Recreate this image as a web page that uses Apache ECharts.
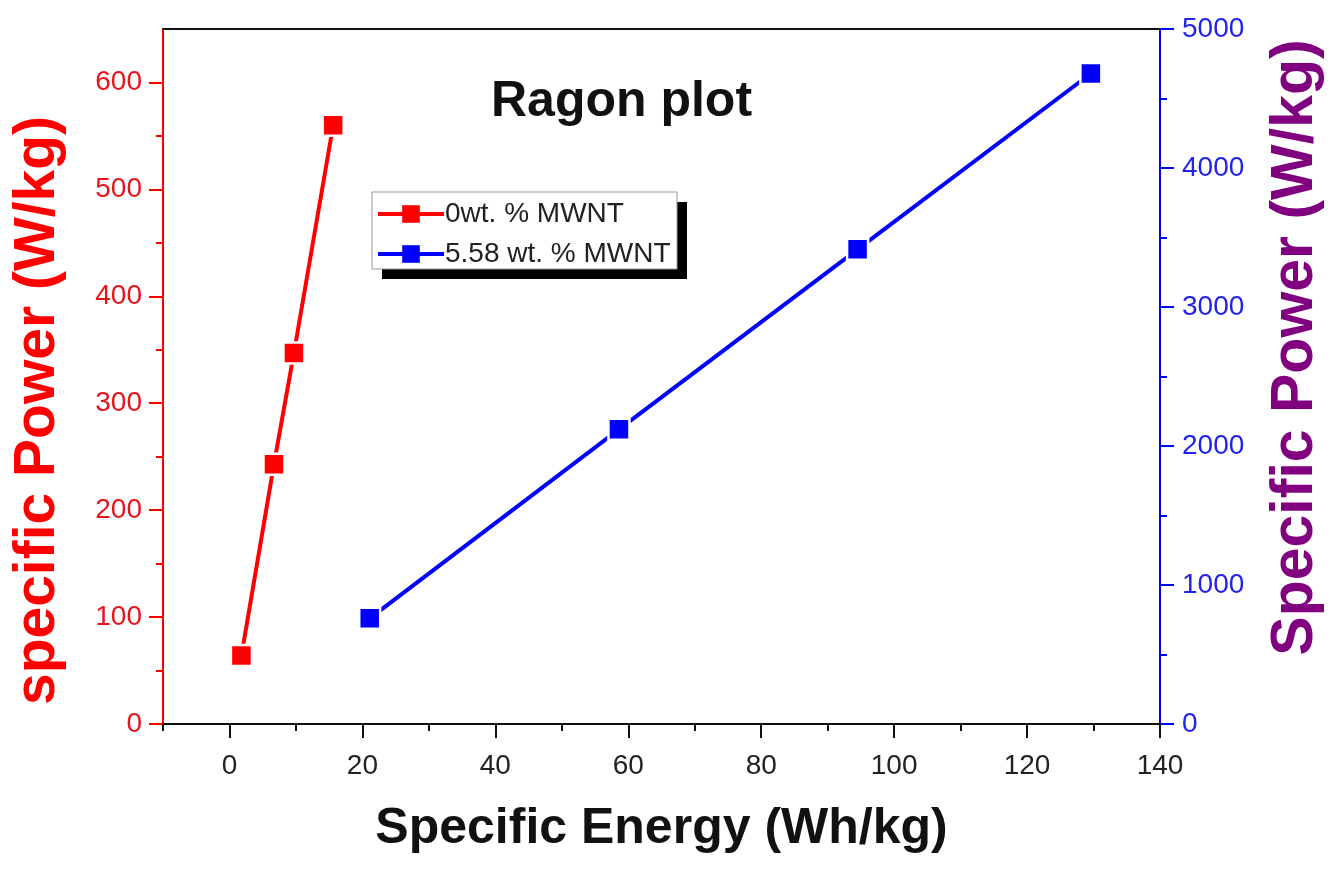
<!DOCTYPE html>
<html>
<head>
<meta charset="utf-8">
<script src="https://cdn.jsdelivr.net/npm/echarts@6/dist/echarts.min.js"></script>
<style>
  html, body { margin: 0; padding: 0; background: #fff; overflow: hidden; }
  #chart { width: 1336px; height: 871px; }
</style>
</head>
<body>
<div id="chart"></div>
<script>
// Ragon plot: specific power vs specific energy for two MWNT loadings
const seriesNames = ['0wt. % MWNT', '5.58 wt. % MWNT'];

// 0 wt.% MWNT (left axis)
const energy0 = [1.8, 6.7, 9.7, 15.6];
const power0 = [64, 243, 347, 560];

// 5.58 wt.% MWNT (right axis)
const energy1 = [21.1, 58.6, 94.5, 129.6];
const power1 = [760, 2120, 3415, 4680];

// Tick positions
const xMajor = [0, 20, 40, 60, 80, 100, 120, 140];
const xMinor = [-10, 10, 30, 50, 70, 90, 110, 130];
const yLeftMajor = [0, 100, 200, 300, 400, 500, 600];
const yLeftMinor = [50, 150, 250, 350, 450, 550];
const yRightMajor = [0, 1000, 2000, 3000, 4000, 5000];
const yRightMinor = [500, 1500, 2500, 3500, 4500];

const FONT = '"Liberation Sans", Arial, sans-serif';
const RED = '#ff0000';
const BLUE = '#0000ff';
const PURPLE = '#800080';

const pairs = (xs, ys) => xs.map((x, i) => [x, ys[i]]);
const plain = (v) => String(v);

const chart = echarts.init(document.getElementById('chart'), null, { renderer: 'canvas' });

const hiddenLabel = { show: false };
const hiddenLine = { show: false, onZero: false };

// legend frame with a hard drop shadow
const legendBox = { x: 372, y: 192, w: 305, h: 77, shadow: 10 };

chart.setOption({
  animation: false,
  backgroundColor: '#fff',
  textStyle: { fontFamily: FONT },
  title: {
    text: 'Ragon plot',
    left: 486,
    top: 72,
    textStyle: { fontFamily: FONT, fontSize: 50, fontWeight: 'bold', color: '#111' }
  },
  graphic: [
    {
      type: 'rect',
      z: 1,
      silent: true,
      shape: { x: legendBox.x + legendBox.shadow, y: legendBox.y + legendBox.shadow, width: legendBox.w, height: legendBox.h },
      style: { fill: '#000' }
    },
    {
      type: 'rect',
      z: 2,
      silent: true,
      shape: { x: legendBox.x, y: legendBox.y, width: legendBox.w, height: legendBox.h },
      style: { fill: '#fff', stroke: '#999', lineWidth: 1 }
    }
  ],
  legend: {
    orient: 'vertical',
    left: legendBox.x,
    top: legendBox.y,
    data: seriesNames,
    itemWidth: 66,
    itemHeight: 22,
    itemGap: 12,
    padding: [8, 10, 5, 4],
    lineStyle: { width: 4 },
    itemStyle: { borderWidth: 0 },
    textStyle: { fontFamily: FONT, fontSize: 28, color: '#222', padding: [0, 0, 0, -4] }
  },
  grid: { left: 163, right: 176, top: 29, bottom: 147, containLabel: false, outerBoundsMode: 'none' },
  xAxis: [
    {
      type: 'value',
      min: -10,
      max: 140,
      position: 'bottom',
      name: 'Specific Energy (Wh/kg)',
      nameLocation: 'middle',
      nameGap: 80,
      nameTextStyle: { fontFamily: FONT, fontSize: 50, fontWeight: 'bold', color: '#111' },
      axisLine: { show: true, onZero: false, lineStyle: { color: '#111', width: 2 } },
      axisTick: { show: true, customValues: xMajor, length: 14, lineStyle: { color: '#111', width: 2 } },
      axisLabel: { customValues: xMajor, formatter: plain, margin: 28, fontFamily: FONT, fontSize: 28, color: '#222' },
      splitLine: { show: false }
    },
    {
      // minor ticks along the bottom
      type: 'value',
      min: -10,
      max: 140,
      position: 'bottom',
      axisLine: hiddenLine,
      axisTick: { show: true, customValues: xMinor, length: 7, lineStyle: { color: '#111', width: 2 } },
      axisLabel: hiddenLabel,
      splitLine: { show: false }
    },
    {
      // top frame line
      type: 'value',
      min: -10,
      max: 140,
      position: 'top',
      axisLine: { show: true, onZero: false, lineStyle: { color: '#111', width: 2 } },
      axisTick: { show: false },
      axisLabel: hiddenLabel,
      splitLine: { show: false }
    }
  ],
  yAxis: [
    {
      type: 'value',
      min: 0,
      max: 650,
      position: 'left',
      name: 'specific Power (W/kg)',
      nameLocation: 'middle',
      nameRotate: 90,
      nameGap: 96,
      nameTextStyle: { fontFamily: FONT, fontSize: 57, fontWeight: 'bold', color: RED, padding: [0, 68, 0, 0] },
      axisLine: { show: true, onZero: false, lineStyle: { color: RED, width: 2 } },
      axisTick: { show: true, customValues: yLeftMajor, length: 14, lineStyle: { color: RED, width: 2 } },
      axisLabel: { customValues: yLeftMajor, formatter: plain, margin: 21, fontFamily: FONT, fontSize: 28, color: '#e8141c' },
      splitLine: { show: false }
    },
    {
      type: 'value',
      min: 0,
      max: 5000,
      position: 'right',
      name: 'Specific Power (W/kg)',
      nameLocation: 'middle',
      nameRotate: 90,
      nameGap: 106,
      nameTextStyle: { fontFamily: FONT, fontSize: 59, fontWeight: 'bold', color: PURPLE, padding: [0, 0, 0, 58] },
      axisLine: { show: true, onZero: false, lineStyle: { color: BLUE, width: 2 } },
      axisTick: { show: true, customValues: yRightMajor, length: 14, lineStyle: { color: BLUE, width: 2 } },
      axisLabel: { customValues: yRightMajor, formatter: plain, margin: 22, fontFamily: FONT, fontSize: 28, color: '#2222e8' },
      splitLine: { show: false }
    },
    {
      // left minor ticks
      type: 'value',
      min: 0,
      max: 650,
      position: 'left',
      axisLine: hiddenLine,
      axisTick: { show: true, customValues: yLeftMinor, length: 7, lineStyle: { color: RED, width: 2 } },
      axisLabel: hiddenLabel,
      splitLine: { show: false }
    },
    {
      // right minor ticks
      type: 'value',
      min: 0,
      max: 5000,
      position: 'right',
      axisLine: hiddenLine,
      axisTick: { show: true, customValues: yRightMinor, length: 7, lineStyle: { color: BLUE, width: 2 } },
      axisLabel: hiddenLabel,
      splitLine: { show: false }
    }
  ],
  series: [
    {
      name: seriesNames[0],
      type: 'line',
      xAxisIndex: 0,
      yAxisIndex: 0,
      data: pairs(energy0, power0),
      symbol: 'rect',
      symbolSize: 21,
      lineStyle: { color: RED, width: 4 },
      itemStyle: { color: RED, borderColor: '#fff', borderWidth: 2.5 },
      z: 3
    },
    {
      name: seriesNames[1],
      type: 'line',
      xAxisIndex: 0,
      yAxisIndex: 1,
      data: pairs(energy1, power1),
      symbol: 'rect',
      symbolSize: 21,
      lineStyle: { color: BLUE, width: 4 },
      itemStyle: { color: BLUE, borderColor: '#fff', borderWidth: 2.5 },
      z: 3
    }
  ]
});
</script>
</body>
</html>
